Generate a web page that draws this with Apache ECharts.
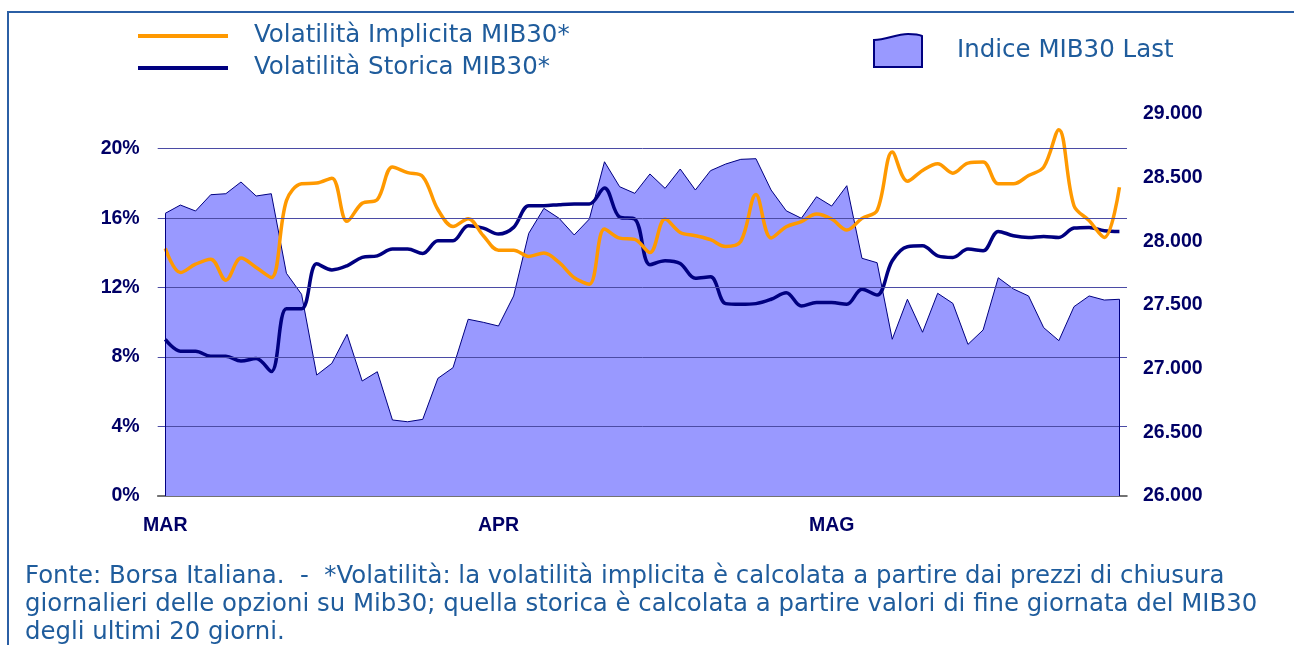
<!DOCTYPE html>
<html><head><meta charset="utf-8">
<script src="https://cdn.jsdelivr.net/npm/echarts@6/dist/echarts.min.js"></script>
<style>html,body{margin:0;padding:0;background:#fff}#c{width:1294px;height:645px}</style>
</head><body><div id="c"></div><script>
// ---- data ----
const monthNames = ['MAR', 'APR', 'MAG'];
const monthDays = [22, 22, 20];
const implied = [14.26, 12.87, 13.35, 13.64, 12.43, 13.70, 13.16, 12.58, 17.01, 17.98, 18.02, 18.30, 15.82, 16.86, 17.07, 18.95,
  18.62, 18.40, 16.50, 15.52, 15.97, 14.99, 14.16, 14.16, 13.80, 13.99, 13.45, 12.58, 12.20, 15.38, 14.85, 14.78,
  14.02, 15.95, 15.18, 14.99, 14.76, 14.37, 14.66, 17.36, 14.86, 15.51, 15.80, 16.24, 15.95, 15.32, 15.99, 16.44,
  19.81, 18.13, 18.75, 19.13, 18.59, 19.17, 19.23, 17.98, 17.98, 18.46, 18.94, 21.10, 16.72, 15.86, 14.89, 17.78];
const historical = [9.02, 8.34, 8.34, 8.05, 8.05, 7.77, 7.92, 7.17, 10.78, 10.78, 13.37, 13.02, 13.26, 13.74, 13.83, 14.22,
  14.22, 13.97, 14.70, 14.70, 15.57, 15.43, 15.09, 15.47, 16.72, 16.72, 16.78, 16.82, 16.82, 17.74, 16.06, 15.95,
  13.32, 13.55, 13.39, 12.54, 12.62, 11.08, 11.04, 11.08, 11.33, 11.71, 10.94, 11.14, 11.14, 11.04, 11.91, 11.58,
  13.55, 14.36, 14.41, 13.83, 13.74, 14.22, 14.12, 15.24, 14.99, 14.89, 14.95, 14.89, 15.43, 15.47, 15.28, 15.24];
const mib30 = [28220, 28285, 28238, 28366, 28374, 28466, 28356, 28374, 27749, 27584, 26950, 27042, 27270, 26903, 26976, 26597,
  26583, 26602, 26924, 27008, 27388, 27364, 27335, 27571, 28063, 28259, 28181, 28050, 28175, 28625, 28429, 28377,
  28529, 28416, 28568, 28403, 28555, 28607, 28644, 28649, 28403, 28240, 28181, 28350, 28277, 28437, 27867, 27832,
  27231, 27545, 27286, 27592, 27513, 27191, 27304, 27714, 27626, 27571, 27322, 27220, 27487, 27571, 27539, 27545];
const leftTicks = [4, 8, 12, 16, 20];
const leftRange = [0, 22];
const rightRange = [26000, 29000];
const seriesNames = ['Volatilità Implicita MIB30*', 'Volatilità Storica MIB30*', 'Indice MIB30 Last'];
const footnote = 'Fonte: Borsa Italiana.  -  *Volatilità: la volatilità implicita è calcolata a partire dai prezzi di chiusura\n' +
  'giornalieri delle opzioni su Mib30; quella storica è calcolata a partire valori di fine giornata del MIB30\n' +
  'degli ultimi 20 giorni.';

// ---- derived ----
const categories = [];
const monthStart = {};
monthNames.forEach((m, k) => {
  monthStart[categories.length] = m;
  for (let d = 1; d <= monthDays[k]; d++) categories.push(m + ' ' + d);
});
const last = categories.length - 1;

const NAVY = '#000080', ORANGE = '#FF9900', FILL = '#9999FF';
const LBL = '#000066', TXT = '#1F5C9C';
const axisFont = { color: LBL, fontFamily: 'Liberation Sans, Arial, sans-serif', fontWeight: 'bold', fontSize: 19.5 };

const chart = echarts.init(document.getElementById('c'), null, { renderer: 'canvas' });
chart.setOption({
  animation: false,
  backgroundColor: '#ffffff',
  grid: { left: 157.7, right: 167, top: 114, bottom: 149 },
  legend: [
    {
      data: [seriesNames[0], seriesNames[1]],
      orient: 'vertical', left: 138, top: 22, padding: 0, itemWidth: 90, itemHeight: 4, itemGap: 4,
      icon: 'rect',
      textStyle: { color: TXT, fontFamily: 'DejaVu Sans', fontSize: 24.5, lineHeight: 24, padding: [4, 0, 0, 21] }
    },
    {
      data: [{ name: seriesNames[2], icon: 'path://M0,6 C12,6 22,0 34,0 C40,0 46,1 48,2 L48,33 L0,33 Z' }],
      left: 873, top: 33, padding: 0, itemWidth: 48, itemHeight: 34,
      itemStyle: { borderColor: NAVY, borderWidth: 2 },
      textStyle: { color: TXT, fontFamily: 'DejaVu Sans', fontSize: 24.5, padding: [8, 0, 0, 30] }
    }
  ],
  xAxis: {
    type: 'category', data: categories, boundaryGap: true,
    axisLine: { lineStyle: { color: '#444', width: 1.5 } },
    axisTick: { interval: (i) => monthStart[i] !== undefined, length: 7, lineStyle: { color: '#444', width: 1.5 } },
    axisLabel: Object.assign({ interval: (i) => monthStart[i] !== undefined, formatter: (v) => v.split(' ')[0], margin: 20 }, axisFont),
    splitLine: { show: false }
  },
  yAxis: [
    {
      type: 'value', min: leftRange[0], max: leftRange[1], interval: 4, position: 'left',
      axisLine: { show: false }, axisTick: { show: false }, splitLine: { show: false },
      axisLabel: Object.assign({ margin: 18, formatter: (v) => v <= 20 ? v + '%' : '' }, axisFont)
    },
    {
      type: 'value', min: rightRange[0], max: rightRange[1], interval: 500, position: 'right',
      axisLine: { show: false }, axisTick: { show: false }, splitLine: { show: false },
      axisLabel: Object.assign({ margin: 16, formatter: (v) => Math.floor(v / 1000) + '.' + String(v % 1000).padStart(3, '0') }, axisFont)
    }
  ],
  series: [
    {
      name: 'grid', type: 'line', yAxisIndex: 0, data: [], z: 1, silent: true,
      markLine: {
        silent: true, symbol: 'none', label: { show: false },
        lineStyle: { color: '#4B4BA5', width: 1, type: 'solid' },
        data: leftTicks.map(t => ({ yAxis: t }))
      }
    },
    {
      name: seriesNames[2], type: 'line', yAxisIndex: 1, data: mib30, z: 2,
      symbol: 'none', smooth: false, color: FILL,
      lineStyle: { color: NAVY, width: 1 },
      areaStyle: { color: FILL, opacity: 1, origin: 'start' },
      markLine: {
        silent: true, symbol: 'none', label: { show: false },
        lineStyle: { color: NAVY, width: 1, type: 'solid' },
        data: [
          [{ coord: [categories[0], rightRange[0]] }, { coord: [categories[0], mib30[0]] }],
          [{ coord: [categories[last], rightRange[0]] }, { coord: [categories[last], mib30[last]] }]
        ]
      }
    },
    {
      name: seriesNames[1], type: 'line', yAxisIndex: 0, data: historical, z: 3,
      symbol: 'none', smooth: 0.35, color: NAVY, lineStyle: { color: NAVY, width: 3.5 }
    },
    {
      name: seriesNames[0], type: 'line', yAxisIndex: 0, data: implied, z: 4,
      symbol: 'none', smooth: 0.35, color: ORANGE, lineStyle: { color: ORANGE, width: 3.5 }
    }
  ],
  graphic: [
    { type: 'polyline', silent: true, shape: { points: [[8, 645], [8, 12], [1294, 12]] }, style: { stroke: '#2B5FA5', lineWidth: 2, fill: null } },
    { type: 'text', left: 25, top: 563, silent: true,
      style: { text: footnote, fill: TXT, font: '24.4px "DejaVu Sans"', lineHeight: 28 } }
  ]
});
</script></body></html>
